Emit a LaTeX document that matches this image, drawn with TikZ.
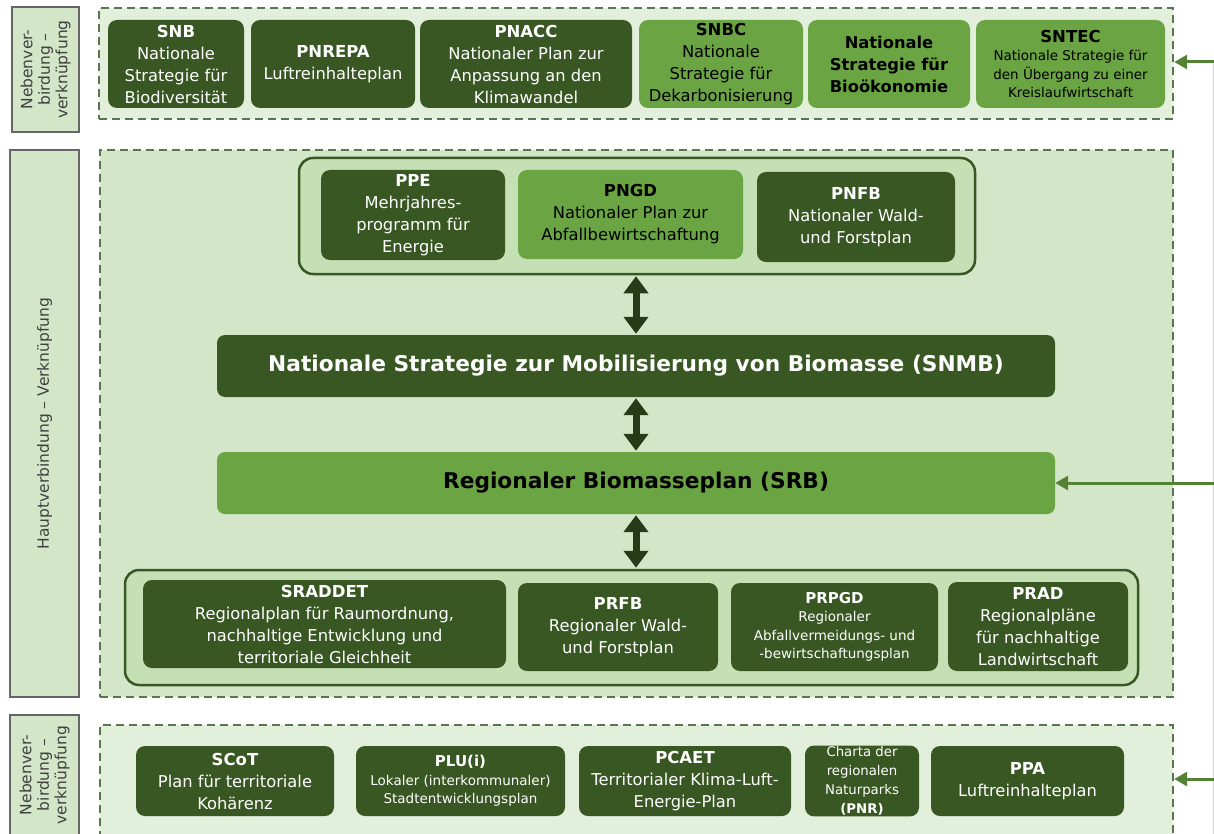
\documentclass[tikz,border=0pt]{standalone}
\usepackage{fontspec}
\setmainfont{DejaVu Sans}
\usetikzlibrary{arrows.meta}
\definecolor{dkg}{HTML}{385723}
\definecolor{ltg}{HTML}{6AA443}
\definecolor{bgtop}{HTML}{E2EFDA}
\definecolor{bgmid}{HTML}{D3E6C7}
\definecolor{grpfill}{HTML}{C5E0B4}
\definecolor{grpline}{HTML}{385723}
\definecolor{dashc}{HTML}{5A7650}
\definecolor{arrg}{HTML}{548235}
\definecolor{dblc}{HTML}{263C18}
\definecolor{lblc}{HTML}{404040}
\newcommand\myfs[2]{\fontsize{#1}{#2}\selectfont}
\newcommand\ttl[1]{{\myfs{16.5}{22}\bfseries #1}}
\begin{document}
\begin{tikzpicture}[x=1pt,y=-1pt,
  box/.style={rounded corners=9pt, align=center, inner sep=1pt, font=\myfs{16.3}{22}},
  dkbox/.style={box, fill=dkg, text=white},
  ltbox/.style={box, fill=ltg, text=black},
  grp/.style={rounded corners=14pt, draw=grpline, line width=2.5pt, fill=grpfill, inner sep=0pt},
  cont/.style={draw=dashc, line width=2.4pt, dash pattern=on 8pt off 5pt, inner sep=0pt},
  lbl/.style={draw=gray!80!black, line width=1.2pt, fill=bgmid, inner sep=0pt},
  lbltxt/.style={rotate=90, align=center, text=lblc, font=\myfs{15.5}{17.5}},
  rarr/.style={draw=arrg, line width=3pt, -{Triangle[length=13pt,width=14pt]}},
  dbl/.style={draw=dblc, line width=7pt, {Triangle[length=17pt,width=24pt]}-{Triangle[length=17pt,width=24pt]}, shorten <=1pt, shorten >=1pt}
]
\useasboundingbox (0,0) rectangle (1214,834);
\clip (0,0) rectangle (1214,834);

% right vertical line
\coordinate (vt) at (1213.3,62);
\coordinate (vb) at (1213.3,834);
\draw[gray!35, line width=0.8pt] (vt) -- (vb);

% left labels
\node[lbl, minimum width=67pt, minimum height=125pt] (ltop) at (45.5,69.5) {};
\node[lbltxt] (ltoptxt) at (ltop.center) {Nebenver-\\birdung –\\verknüpfung};
\node[lbl, minimum width=69pt, minimum height=547pt] (lmid) at (44.5,423.5) {};
\node[lbltxt] (lmidtxt) at (lmid.center) {Hauptverbindung – Verknüpfung};
\node[lbl, minimum width=69pt, minimum height=130pt] (lbot) at (44.5,780) {};
\node[lbltxt] (lbottxt) at (44.5,775) {Nebenver-\\birdung –\\verknüpfung};

% containers
\node[cont, fill=bgtop, minimum width=1074pt, minimum height=111pt] (topc) at (636,63.5) {};
\node[cont, fill=bgmid, minimum width=1073pt, minimum height=547pt] (midc) at (636.5,423.5) {};
\node[cont, fill=bgtop, minimum width=1073pt, minimum height=140pt] (botc) at (636.5,795) {};

% top row
\node[dkbox, minimum width=136pt, minimum height=88pt] (snb) at (176,64) {\ttl{SNB}\\Nationale\\Strategie für\\Biodiversität};
\node[dkbox, minimum width=164pt, minimum height=88pt] (pnrepa) at (333,64) {\ttl{PNREPA}\\Luftreinhalteplan};
\node[dkbox, minimum width=212pt, minimum height=88pt] (pnacc) at (526,64) {\ttl{PNACC}\\Nationaler Plan zur\\Anpassung an den\\Klimawandel};
\node[ltbox, minimum width=164pt, minimum height=88pt] (snbc) at (721,64) {\ttl{SNBC}\\Nationale\\Strategie für\\Dekarbonisierung};
\node[ltbox, minimum width=162pt, minimum height=88pt, font=\myfs{16.3}{22}\bfseries] (snbio) at (889,64) {Nationale\\Strategie für\\Bioökonomie};
\node[ltbox, minimum width=189pt, minimum height=88pt, font=\myfs{13.5}{18.5}] (sntec) at (1070.5,64) {{\myfs{16.5}{20}\bfseries SNTEC}\\Nationale Strategie für\\den Übergang zu einer\\Kreislaufwirtschaft};

% upper group
\node[grp, minimum width=676pt, minimum height=116pt] (ug) at (637,216) {};
\node[dkbox, minimum width=184pt, minimum height=90pt] (ppe) at (413,215) {\ttl{PPE}\\Mehrjahres-\\programm für\\Energie};
\node[ltbox, minimum width=225pt, minimum height=89pt] (pngd) at (630.5,214.5) {\ttl{PNGD}\\Nationaler Plan zur\\Abfallbewirtschaftung};
\node[dkbox, minimum width=198pt, minimum height=90pt] (pnfb) at (856,217) {\ttl{PNFB}\\Nationaler Wald-\\und Forstplan};

% central
\node[dkbox, rounded corners=8pt, minimum width=838pt, minimum height=62pt, font=\myfs{21.7}{24}\bfseries] (snmb) at (636,366) {Nationale Strategie zur Mobilisierung von Biomasse (SNMB)};
\node[ltbox, rounded corners=8pt, minimum width=838pt, minimum height=62pt, font=\myfs{21.7}{24}\bfseries] (srb) at (636,483) {Regionaler Biomasseplan (SRB)};

% lower group
\node[grp, minimum width=1013pt, minimum height=115pt] (lg) at (631.5,627.5) {};
\node[dkbox, minimum width=363pt, minimum height=88pt] (sraddet) at (324.5,624) {\ttl{SRADDET}\\Regionalplan für Raumordnung,\\nachhaltige Entwicklung und\\territoriale Gleichheit};
\node[dkbox, minimum width=200pt, minimum height=88pt] (prfb) at (618,627) {\ttl{PRFB}\\Regionaler Wald-\\und Forstplan};
\node[dkbox, minimum width=207pt, minimum height=88pt, font=\myfs{13.5}{18.5}] (prpgd) at (834.5,627) {{\myfs{15}{20}\bfseries PRPGD}\\Regionaler\\Abfallvermeidungs- und\\-bewirtschaftungsplan};
\node[dkbox, minimum width=180pt, minimum height=89pt] (prad) at (1038,626.5) {\ttl{PRAD}\\Regionalpläne\\für nachhaltige\\Landwirtschaft};

% bottom row
\node[dkbox, minimum width=198pt, minimum height=70pt] (scot) at (235,781) {\ttl{SCoT}\\Plan für territoriale\\Kohärenz};
\node[dkbox, minimum width=209pt, minimum height=70pt, font=\myfs{13.5}{18.5}] (plu) at (460.5,781) {{\myfs{15}{19}\bfseries PLU(i)}\\Lokaler (interkommunaler)\\Stadtentwicklungsplan};
\node[dkbox, minimum width=212pt, minimum height=70pt] (pcaet) at (685,781) {\ttl{PCAET}\\Territorialer Klima-Luft-\\Energie-Plan};
\node[dkbox, minimum width=114pt, minimum height=70pt, font=\myfs{13.3}{19}] (charta) at (862,781) {Charta der\\regionalen\\Naturparks\\\textbf{(PNR)}};
\node[dkbox, minimum width=193pt, minimum height=70pt] (ppa) at (1027.5,781) {\ttl{PPA}\\Luftreinhalteplan};

% double arrows
\draw[dbl] (ug.south -| snmb.north) -- (snmb.north);
\draw[dbl] (snmb.south) -- (srb.north);
\draw[dbl] (srb.south) -- (srb.south |- lg.north);

% right arrows
\coordinate (r1) at (1214,62);
\coordinate (r2) at (1214,483);
\coordinate (r3) at (1214,779);
\draw[rarr] (r1) -- (r1 -| topc.east);
\draw[rarr] (r2) -- (srb.east);
\draw[rarr] (r3) -- (r3 -| botc.east);
\end{tikzpicture}
\end{document}
